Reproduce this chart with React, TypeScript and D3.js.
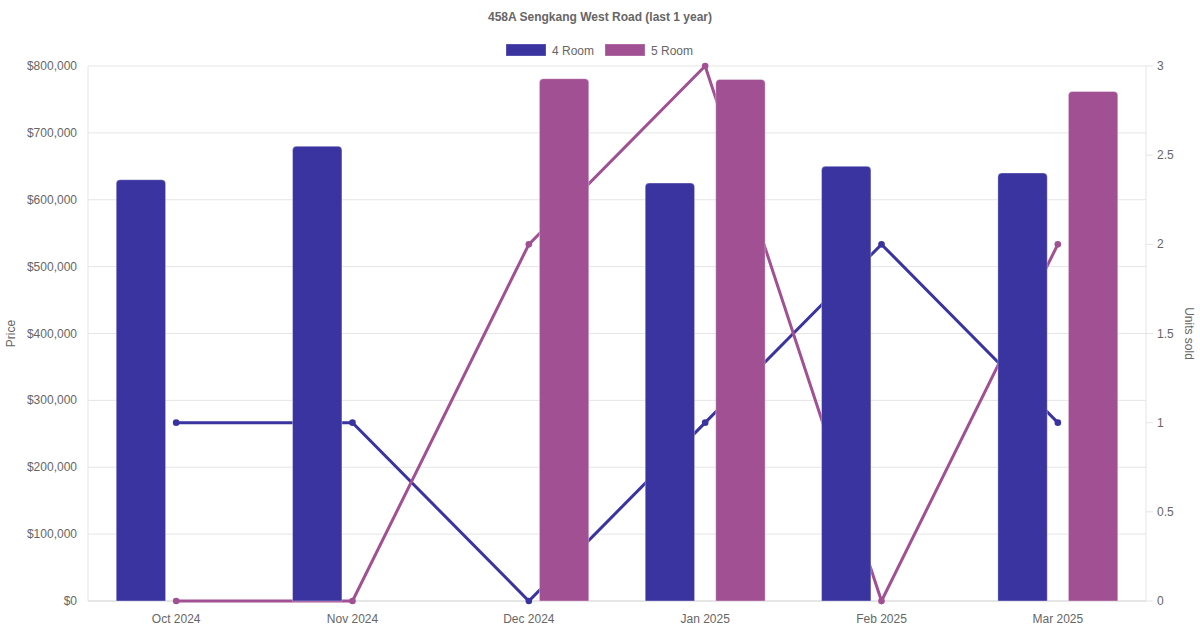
import * as d3 from 'd3'
import React from 'react'

const months = ['Oct 2024', 'Nov 2024', 'Dec 2024', 'Jan 2025', 'Feb 2025', 'Mar 2025']
const price4Room: (number | null)[] = [630000, 680000, null, 625000, 650000, 640000]
const price5Room: (number | null)[] = [null, null, 781000, 780000, null, 762000]
const units4Room = [1, 1, 0, 1, 2, 1]
const units5Room = [0, 0, 2, 3, 0, 2]
const priceTicks = [0, 100000, 200000, 300000, 400000, 500000, 600000, 700000, 800000]
const unitTicks = [0, 0.5, 1, 1.5, 2, 2.5, 3]

const BLUE = '#3a34a0'
const PURPLE = '#a05093'
const FONT = '"Liberation Sans", Arial, Helvetica, sans-serif'
const TXT = '#666'

const width = 1200
const height = 630
const margin = { top: 66, right: 54, bottom: 29, left: 88 }

const series = [
    { name: '4 Room', color: BLUE, price: price4Room, units: units4Room },
    { name: '5 Room', color: PURPLE, price: price5Room, units: units5Room },
]

// bar with rounded top corners
function barPath(x: number, y: number, w: number, h: number, r: number) {
    const rr = Math.min(r, h, w / 2)
    return `M${x},${y + h}V${y + rr}Q${x},${y} ${x + rr},${y}H${x + w - rr}Q${x + w},${y} ${x + w},${y + rr}V${y + h}Z`
}

const App = (): JSX.Element => {
    const plotW = width - margin.left - margin.right
    const plotB = height - margin.bottom

    const xScale = d3.scaleBand().domain(months).range([margin.left, width - margin.right])
    const step = xScale.bandwidth()
    const inner = d3
        .scaleBand()
        .domain(series.map((s) => s.name))
        .range([-step * 0.4, step * 0.4])
        .paddingInner(0.3)
        .paddingOuter(0.15)

    const yPrice = d3.scaleLinear().domain([0, 800000]).range([plotB, margin.top])
    const yUnits = d3.scaleLinear().domain([0, 3]).range([plotB, margin.top])
    const fmt = d3.format('$,')

    const cx = (m: string) => (xScale(m) as number) + step / 2

    const line = d3
        .line<number>()
        .x((_, i) => cx(months[i]))
        .y((d) => yUnits(d))

    return (
        <div style={{ position: 'absolute', left: 0, top: 0 }}>
            <svg width={width} height={height} style={{ display: 'block', fontFamily: FONT }}>
                <rect width={width} height={height} fill="#fff" />
                <text x={width / 2} y={21} textAnchor="middle" fontSize={12} fontWeight="bold" fill={TXT}>
                    458A Sengkang West Road (last 1 year)
                </text>

                {/* legend */}
                {series.map((s, i) => {
                    const lx = 506 + i * 99
                    return (
                        <g key={s.name}>
                            <rect x={lx} y={44} width={40} height={12} fill={s.color} stroke="#fff" strokeOpacity={0.3} />
                            <text x={lx + 46} y={54.5} fontSize={12} fill={TXT}>
                                {s.name}
                            </text>
                        </g>
                    )
                })}

                {/* grid */}
                {priceTicks.map((t) => (
                    <line
                        key={t}
                        x1={margin.left}
                        x2={margin.left + plotW}
                        y1={yPrice(t)}
                        y2={yPrice(t)}
                        stroke={t === 0 ? '#ccc' : '#e5e5e5'}
                    />
                ))}
                <line x1={margin.left} x2={margin.left} y1={margin.top} y2={plotB} stroke="#e5e5e5" />
                <line
                    x1={margin.left + plotW}
                    x2={margin.left + plotW}
                    y1={margin.top}
                    y2={plotB}
                    stroke="#e5e5e5"
                />

                {/* left axis */}
                {priceTicks.map((t) => (
                    <text key={t} x={77} y={yPrice(t) + 4} textAnchor="end" fontSize={12} fill={TXT}>
                        {fmt(t)}
                    </text>
                ))}
                <text
                    transform={`translate(15,${(margin.top + plotB) / 2}) rotate(-90)`}
                    textAnchor="middle"
                    fontSize={12}
                    fill={TXT}
                >
                    Price
                </text>

                {/* right axis */}
                {unitTicks.map((t) => (
                    <g key={t}>
                        <line
                            x1={margin.left + plotW}
                            x2={margin.left + plotW + 7}
                            y1={yUnits(t)}
                            y2={yUnits(t)}
                            stroke="#e5e5e5"
                        />
                        <text x={margin.left + plotW + 11} y={yUnits(t) + 4} fontSize={12} fill={TXT}>
                            {t}
                        </text>
                    </g>
                ))}
                <text
                    transform={`translate(1185,${(margin.top + plotB) / 2}) rotate(90)`}
                    textAnchor="middle"
                    fontSize={12}
                    fill={TXT}
                >
                    Units sold
                </text>

                {/* x axis */}
                {months.map((m) => (
                    <text key={m} x={cx(m)} y={623} textAnchor="middle" fontSize={12} fill={TXT}>
                        {m}
                    </text>
                ))}

                {/* lines (behind bars) */}
                {series.map((s) => (
                    <g key={s.name}>
                        <path d={line(s.units) || ''} fill="none" stroke={s.color} strokeWidth={3} />
                        {s.units.map((u, i) => (
                            <circle key={i} cx={cx(months[i])} cy={yUnits(u)} r={3.3} fill={s.color} />
                        ))}
                    </g>
                ))}

                {/* bars */}
                {series.map((s) =>
                    s.price.map((p, i) => {
                        if (p == null) return null
                        const bx = cx(months[i]) + (inner(s.name) as number)
                        const by = yPrice(p)
                        return (
                            <path
                                key={`${s.name}-${i}`}
                                d={barPath(bx, by, inner.bandwidth(), plotB - by, 4)}
                                fill={s.color}
                                stroke="#fff"
                                strokeOpacity={0.35}
                                strokeWidth={1}
                            />
                        )
                    })
                )}
            </svg>
        </div>
    )
}

export default App
